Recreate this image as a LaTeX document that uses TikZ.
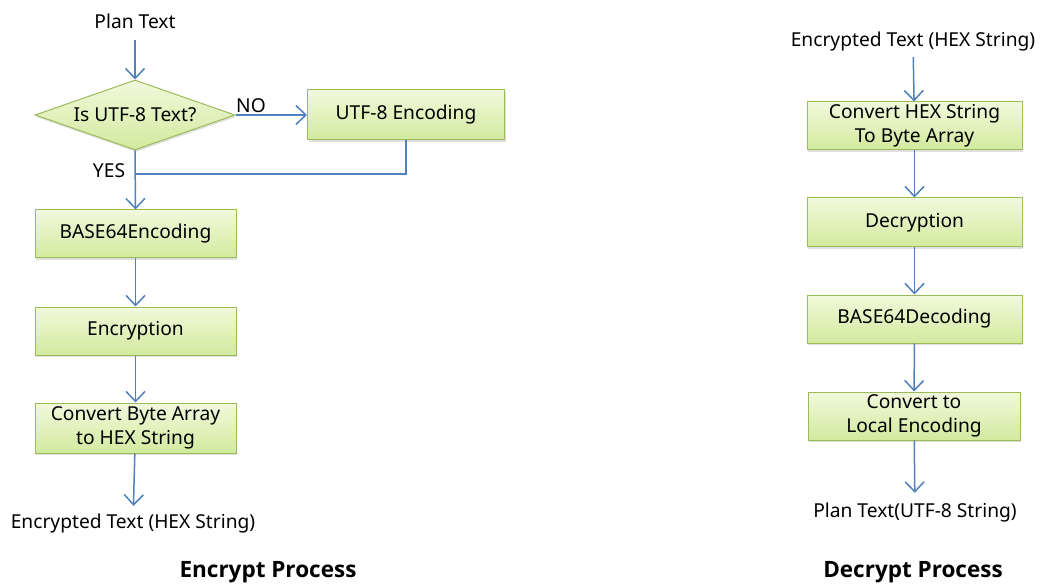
\documentclass[tikz,border=0pt]{standalone}
\usepackage{fontspec}
\setmainfont{Noto Sans}
\newfontfamily\headfont{Open Sans}
\usetikzlibrary{arrows.meta,shapes.geometric,shadows}
\definecolor{flowblue}{HTML}{4F81BD}
\definecolor{boxedge}{HTML}{9BBB59}
\definecolor{boxtop}{HTML}{F1F9DC}
\definecolor{boxbot}{HTML}{D2EA9E}
\begin{document}
\begin{tikzpicture}[x=1pt,y=-1pt,
  every node/.style={font=\fontsize{19.2}{24}\selectfont},
  greenfill/.style={draw=boxedge, line width=1pt, top color=boxtop, bottom color=boxbot,
    drop shadow={opacity=0.25, shadow xshift=1pt, shadow yshift=-2pt}},
  stepbox/.style={greenfill, rectangle, minimum width=201pt, minimum height=48pt,
    inner sep=0pt, align=center},
  widebox/.style={stepbox, minimum width=215pt},
  decision/.style={greenfill, diamond, aspect=2.86, minimum width=200pt,
    minimum height=70pt, inner sep=0pt},
  textlbl/.style={inner sep=2pt, text height=14pt, text depth=4pt},
  titletext/.style={font=\headfont\fontsize{22.5}{26}\selectfont\bfseries},
  flow/.style={draw=flowblue, line width=1.5pt, -{Straight Barb[length=10pt,width=19pt]}},
  mergeline/.style={draw=flowblue, line width=1.5pt}]
\useasboundingbox (0,0) rectangle (1047,588);

% ---- encryption flow ----
\node[textlbl] (plan) at (135,24) {Plan Text};
\node[decision] (dia) at (135,115) {Is UTF-8 Text?};
\node[stepbox, minimum width=197pt, minimum height=50pt] (utf) at (406,115) {UTF-8 Encoding};
\node[stepbox] (b64) at (135.5,234) {BASE64Encoding};
\node[stepbox] (enc) at (135.5,331) {Encryption};
\node[stepbox, minimum height=50pt] (hex) at (135.5,428) {Convert Byte Array\\to HEX String};
\node[textlbl] (out) at (133,523) {Encrypted Text (HEX String)};
\node[titletext] (t1) at (268,572) {Encrypt Process};

\coordinate (merge) at (135,174);
\node[inner sep=0pt] (nolbl) at (251,106) {NO};
\node[inner sep=0pt] (yeslbl) at (109,171) {YES};

\draw[flow, shorten <=5pt] (plan) -- (dia);
\draw[flow] (dia.east) -- (utf.west);
\draw[mergeline] (utf.south) |- (merge);
\draw[flow] (dia.south) -- (b64.north);
\draw[flow] (b64) -- (enc);
\draw[flow] (enc) -- (hex);
\draw[flow, shorten >=6pt] (hex) -- (out);

% ---- decryption flow ----
\node[textlbl] (in2) at (913,42) {Encrypted Text (HEX String)};
\node[widebox] (hb) at (914.5,126) {Convert HEX String\\To Byte Array};
\node[widebox, minimum height=49pt] (dec) at (914.5,222.5) {Decryption};
\node[widebox] (b64d) at (914.5,319) {BASE64Decoding};
\node[widebox, minimum width=212pt] (loc) at (914,416) {Convert to\\Local Encoding};
\node[textlbl] (out2) at (915,512) {Plan Text(UTF-8 String)};
\node[titletext] (t2) at (913,572) {Decrypt Process};

\draw[flow, shorten <=4pt] (in2) -- (hb);
\draw[flow] (hb) -- (dec);
\draw[flow] (dec) -- (b64d);
\draw[flow] (b64d) -- (loc);
\draw[flow, shorten >=8pt] (loc) -- (out2);
\end{tikzpicture}
\end{document}
